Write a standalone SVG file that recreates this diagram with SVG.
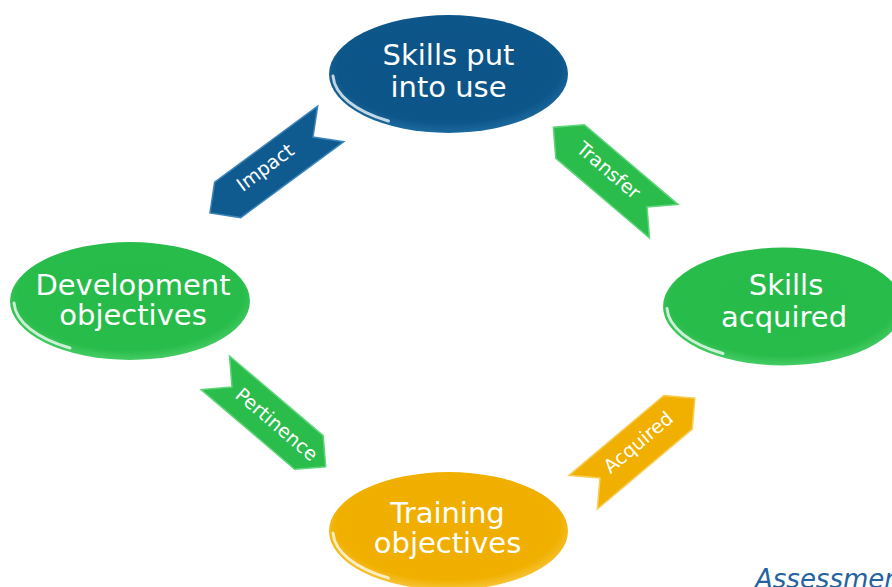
<svg xmlns="http://www.w3.org/2000/svg" width="892" height="587" viewBox="0 0 892 587">
<defs>
<radialGradient id="gBlue" cx="0.5" cy="0.45" r="0.55">
<stop offset="0" stop-color="#0c5487"/><stop offset="0.85" stop-color="#0d5689"/><stop offset="1" stop-color="#1c6aa0"/>
</radialGradient>
<radialGradient id="gGreen" cx="0.5" cy="0.45" r="0.55">
<stop offset="0" stop-color="#26ba48"/><stop offset="0.85" stop-color="#28bc4a"/><stop offset="1" stop-color="#45cc65"/>
</radialGradient>
<radialGradient id="gGold" cx="0.5" cy="0.45" r="0.55">
<stop offset="0" stop-color="#efae00"/><stop offset="0.85" stop-color="#f1b000"/><stop offset="1" stop-color="#f7c43a"/>
</radialGradient>
</defs>
<style>
.lbl{font-family:"DejaVu Sans","Liberation Sans",sans-serif;font-size:29px;fill:#ffffff;text-anchor:middle}
.alb{font-family:"DejaVu Sans","Liberation Sans",sans-serif;font-size:19px;fill:#ffffff;text-anchor:middle}
.hl{fill:none;stroke:#ffffff;stroke-opacity:0.75;stroke-width:3;stroke-linecap:round}
.arw{stroke-width:1.5;stroke-linejoin:miter}
.blueA{fill:#0f5b90;stroke:#3a84bb}
.greenA{fill:#2abd4b;stroke:#5fd57a}
.goldA{fill:#f1b000;stroke:#f8cc55}
.note{font-family:"DejaVu Sans","Liberation Sans",sans-serif;font-size:26px;font-style:italic;fill:#2563a0}
</style>
<rect width="892" height="587" fill="#ffffff"/>

<g id="connectors">
<g id="arrow-impact">
<path class="arw blueA" transform="translate(313,137) rotate(143.6)" d="M -22,-22 L 106,-22 L 128,0 L 106,22 L -22,22 L 0,0 Z"/>
<text class="alb" transform="translate(265,167) rotate(-36.4)" y="7">Impact</text>
</g>
<g id="arrow-transfer">
<path class="arw greenA" transform="translate(647,207) rotate(-139.6)" d="M -22,-22 L 101,-22 L 123,0 L 101,22 L -22,22 L 0,0 Z"/>
<text class="alb" transform="translate(609,170) rotate(40.4)" y="7">Transfer</text>
</g>
<g id="arrow-pertinence">
<path class="arw greenA" transform="translate(232,387) rotate(40.4)" d="M -22,-22 L 101,-22 L 123,0 L 101,22 L -22,22 L 0,0 Z"/>
<text class="alb" transform="translate(277,424) rotate(40.4)" y="7">Pertinence</text>
</g>
<g id="arrow-acquired">
<path class="arw goldA" transform="translate(600,478) rotate(-40.1)" d="M -22,-22 L 102,-22 L 124,0 L 102,22 L -22,22 L 0,0 Z"/>
<text class="alb" transform="translate(638,442) rotate(-40.1)" y="7">Acquired</text>
</g>
</g>

<g id="node-skills-put-into-use" transform="translate(448.5,74)">
<ellipse rx="119.5" ry="59" fill="url(#gBlue)"/>
<path class="hl" d="M -115.5,2 A 115.5 55 0 0 0 -60,47"/>
<text class="lbl"><tspan x="0" y="-9">Skills put</tspan><tspan x="0" y="23">into use</tspan></text>
</g>

<g id="node-development-objectives" transform="translate(130,301)">
<ellipse rx="120" ry="59" fill="url(#gGreen)"/>
<path class="hl" d="M -116,2 A 116 55 0 0 0 -60,47"/>
<text class="lbl"><tspan x="3" y="-6">Development</tspan><tspan x="3" y="24">objectives</tspan></text>
</g>

<g id="node-skills-acquired" transform="translate(783,306.5)">
<ellipse rx="120" ry="59" fill="url(#gGreen)"/>
<path class="hl" d="M -116,2 A 116 55 0 0 0 -60,47"/>
<text class="lbl"><tspan x="3" y="-12">Skills</tspan><tspan x="1" y="20">acquired</tspan></text>
</g>

<g id="node-training-objectives" transform="translate(448.5,531)">
<ellipse rx="119.5" ry="59" fill="url(#gGold)"/>
<path class="hl" d="M -115.5,2 A 115.5 55 0 0 0 -60,47"/>
<text class="lbl"><tspan x="-1" y="-8">Training</tspan><tspan x="-1" y="22">objectives</tspan></text>
</g>

<text class="note" x="755" y="588">Assessment</text>
</svg>
